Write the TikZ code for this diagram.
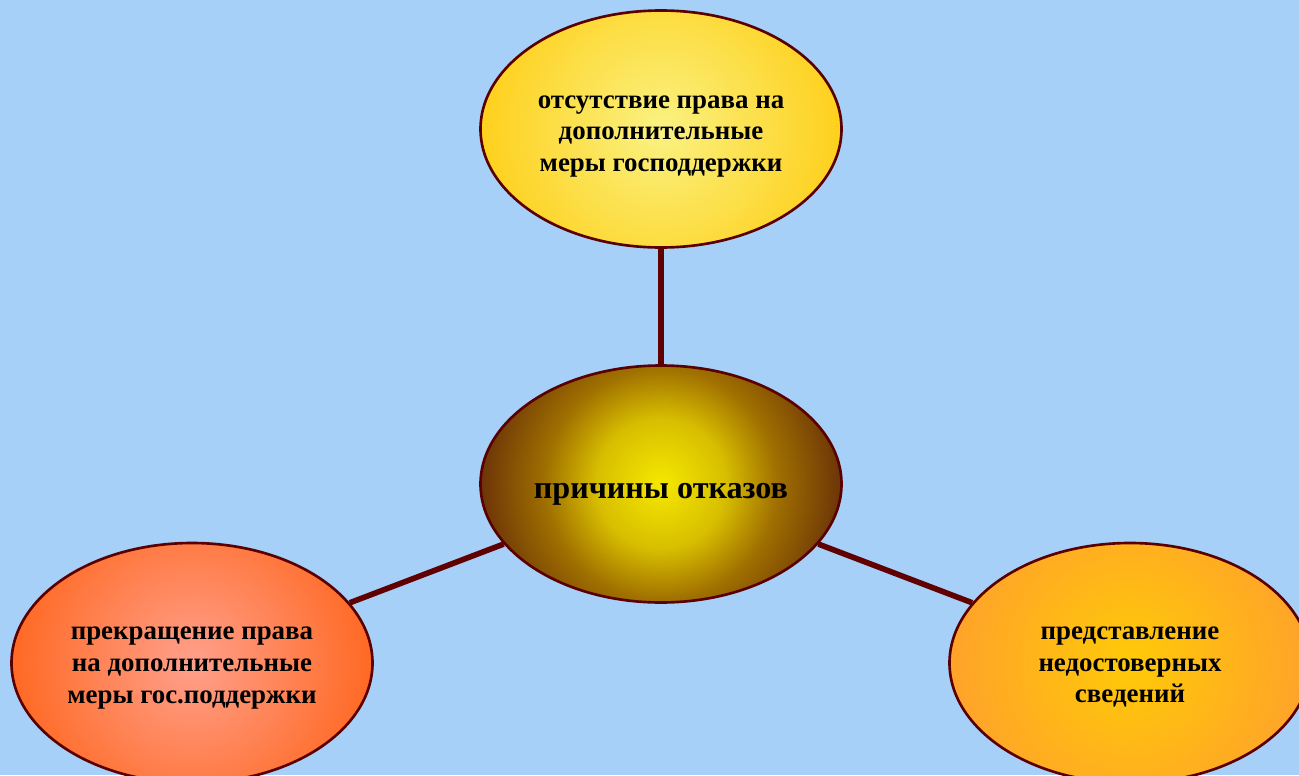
\documentclass[tikz,border=0pt]{standalone}
\usepackage{fontspec}
\setmainfont{Liberation Serif}
\usetikzlibrary{shapes.geometric}

\definecolor{fon}{RGB}{166,208,248}
\definecolor{kontur}{RGB}{90,0,0}
\definecolor{svyaz}{RGB}{96,0,0}
\definecolor{hubA}{RGB}{246,232,0}
\definecolor{hubB}{RGB}{215,190,0}
\definecolor{hubD}{RGB}{160,112,0}
\definecolor{hubC}{RGB}{108,52,8}
\definecolor{topIn}{RGB}{250,242,130}
\definecolor{topOut}{RGB}{254,208,28}
\definecolor{leftIn}{RGB}{255,160,140}
\definecolor{leftOut}{RGB}{255,105,35}
\definecolor{rightIn}{RGB}{255,202,8}
\definecolor{rightOut}{RGB}{255,162,42}

\pgfdeclareradialshading{hubglow}{\pgfpointorigin}{%
  color(0bp)=(hubA); color(9bp)=(hubB); color(16bp)=(hubD);
  color(25bp)=(hubC); color(50bp)=(hubC)}

\begin{document}
\begin{tikzpicture}[
    oval/.style={ellipse, draw=kontur, line width=1.5pt, inner sep=0pt,
      minimum width=7.22cm, minimum height=4.74cm},
    glow/.style 2 args={path picture={\shade[inner color=#1, outer color=#2]
      (path picture bounding box.center) circle (3.62cm);}},
    txt/.style={align=center, font=\fontsize{15.3}{18}\selectfont\bfseries},
    link/.style={svyaz, line width=3.2pt}
  ]
  \useasboundingbox (0,0) rectangle (25.98,-15.5);
  \fill[fon] (0,0) rectangle (25.98,-15.5);
  \clip (0,0) rectangle (25.98,-15.5);

  % Centr
  \node[oval, path picture={\shade[shading=hubglow]
    (path picture bounding box.center) circle (3.62cm);}] (hub) at (13.22,-9.68) {};
  \node[txt, font=\fontsize{18.3}{20}\selectfont\bfseries, yshift=-0.2cm] (hub-t) at (hub) {причины отказов};

  % Prichiny
  \node[oval, glow={topIn}{topOut}] (top) at (13.22,-2.58) {};
  \node[txt, yshift=-0.15cm] (top-t) at (top) {отсутствие права на\\дополнительные\\меры господдержки};

  \node[oval, minimum height=4.8cm, glow={leftIn}{leftOut}] (left) at (3.84,-13.26) {};
  \node[txt, yshift=-0.1cm] (left-t) at (left) {прекращение права\\на дополнительные\\меры гос.поддержки};

  \node[oval, minimum height=4.8cm, glow={rightIn}{rightOut}] (right) at (22.6,-13.26) {};
  \node[txt, yshift=-0.08cm] (right-t) at (right) {представление\\недостоверных\\сведений};

  % Svyazi
  \draw[link] (hub) -- (top);
  \draw[link] (hub) -- (left);
  \draw[link] (hub) -- (right);
\end{tikzpicture}
\end{document}
